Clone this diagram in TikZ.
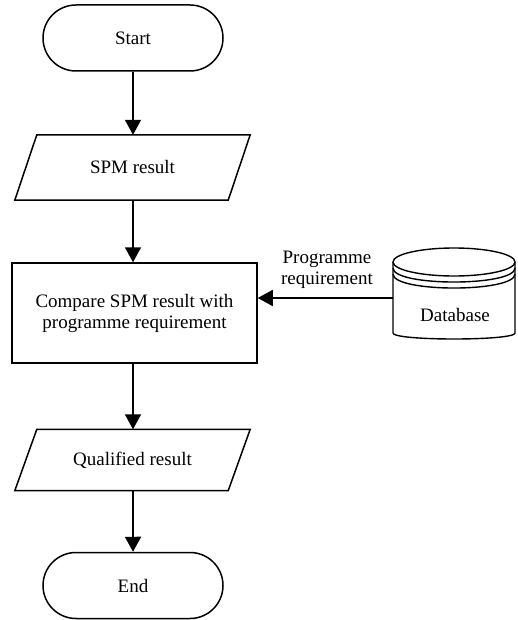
\documentclass[tikz,border=0pt]{standalone}
\usepackage{fontspec}
\setmainfont{Liberation Serif}
\usetikzlibrary{shapes.misc,arrows.meta}

\begin{document}
\begin{tikzpicture}[x=1pt,y=-1pt,
  every node/.style={font=\fontsize{19}{21}\selectfont},
  conn/.style={line width=1.7pt,-{Triangle[length=15pt,width=16pt]}},
  outline/.style={draw,line width=1.5pt},
  terminal/.style={outline,rounded rectangle,minimum width=180pt,minimum height=66pt,inner sep=0pt},
  iobox/.style={rectangle,minimum width=235pt,inner sep=0pt},
  process/.style={outline,rectangle,minimum width=245pt,minimum height=100pt,align=center,inner sep=0pt}]

\useasboundingbox (0,0) rectangle (517,620);

% main flow
\node[terminal] (start) at (133,38) {Start};
\node[iobox,minimum height=65pt] (spm) at (132.5,167.5) {SPM result};
\node[process] (cmp) at (134.5,313) {Compare SPM result with\\programme requirement};
\node[iobox,minimum height=61pt] (qual) at (132.5,460) {Qualified result};
\node[terminal] (end) at (133,585.5) {End};

% data (parallelogram) outlines
\foreach \n in {spm,qual}
  \draw[outline,line join=miter] ([xshift=22pt]\n.north west) -- (\n.north east)
    -- ([xshift=-22pt]\n.south east) -- (\n.south west) -- cycle;

\draw[conn] (start) -- (start |- spm.north);
\draw[conn] (start |- spm.south) -- (start |- cmp.north);
\draw[conn] (start |- cmp.south) -- (start |- qual.north);
\draw[conn] (start |- qual.south) -- (end);

% database store
\draw[line width=1.4pt] (454,262) ellipse [x radius=61pt, y radius=14pt];
\draw[line width=1.4pt] (393,268) .. controls (393,286.7) and (515,286.7) .. (515,268);
\draw[line width=1.4pt] (393,274) .. controls (393,292.7) and (515,292.7) .. (515,274);
\draw[line width=1.4pt] (393,262) -- (393,333) .. controls (393,341) and (515,341) .. (515,333) -- (515,262);
\node (db) at (455,315) {Database};
\coordinate (dbin) at (393,298);

\draw[conn] (dbin) -- (dbin -| cmp.east);
\node[align=center] (req) at (327,270) {Programme\\requirement};

\end{tikzpicture}
\end{document}
